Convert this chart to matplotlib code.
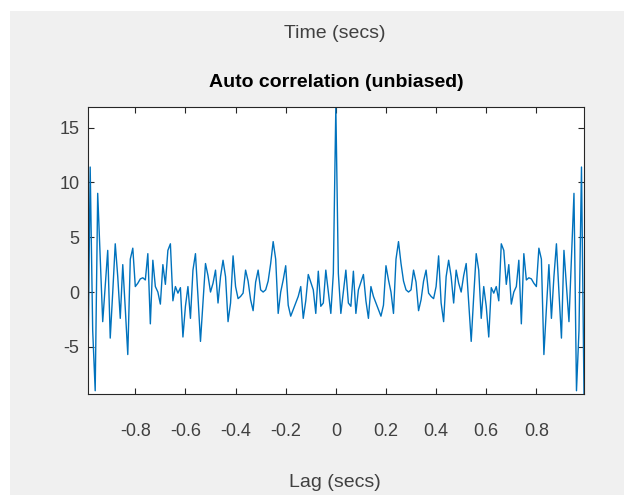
import numpy as np
import matplotlib
matplotlib.use("Agg")
import matplotlib.pyplot as plt
from matplotlib.patches import Rectangle
from matplotlib import font_manager

# autocorrelation values for lags 0 .. 0.99 s;
# the unbiased autocorrelation is symmetric, so negative lags mirror these
acf_pos = [16.9, 1.7, -1.95, 0.0, 2.0, -1.0, -1.3, 1.9, -1.95, 0.2,
           0.9, 1.6, -0.8, -2.4, 0.5, -0.4, -1.0, -1.6, -2.2, -1.2,
           2.4, 1.1, 0.0, -1.95, 3.0, 4.6, 2.6, 1.0, 0.2, 0.0,
           0.2, 2.0, 0.9, -1.7, -0.7, 1.0, 2.0, -0.1, -0.4, -0.6,
           0.5, 3.3, -1.0, -2.7, 1.4, 2.9, 1.4, -1.0, 2.0, 0.8,
           0.0, 1.5, 2.6, -1.0, -4.5, -0.4, 3.5, 2.0, -2.4, 0.5,
           -1.3, -4.1, 0.4, -0.1, 0.5, -0.8, 4.4, 3.8, 0.7, 2.5,
           -1.1, 0.0, 0.5, 2.9, -2.9, 3.5, 1.1, 1.3, 1.2, 0.8,
           0.5, 4.0, 3.0, -5.7, -1.5, 2.5, -2.4, 1.4, 4.4, 0.0,
           -4.2, 3.8, 0.5, -2.7, 3.2, 9.0, -9.0, -3.5, 11.4, -9.3]
fs = 100  # samples per second
xticks = [-0.8, -0.6, -0.4, -0.2, 0, 0.2, 0.4, 0.6, 0.8]
xticklabels = ["-0.8", "-0.6", "-0.4", "-0.2", "0", "0.2", "0.4", "0.6", "0.8"]
yticks = [-5, 0, 5, 10, 15]
yticklabels = ["-5", "0", "5", "10", "15"]

acf = np.concatenate([acf_pos[:0:-1], acf_pos])
n = len(acf_pos)
lags = np.arange(-(n - 1), n) / fs

installed = {f.name for f in font_manager.fontManager.ttflist}
fam = [f for f in ["Liberation Sans Narrow", "Liberation Sans", "DejaVu Sans"] if f in installed]
plt.rcParams['font.family'] = fam

fig = plt.figure(figsize=(6.24, 4.95), dpi=100, facecolor="white")
# grey MATLAB figure background, with the thin white strip top / left
fig.patches.append(Rectangle((10 / 624, 0), 1, 1 - 11 / 495,
                             transform=fig.transFigure, facecolor="#f0f0f0",
                             edgecolor="none", zorder=-5))

ax = fig.add_axes([0.1405, 0.204, 0.7954, 0.5804])
ax.set_zorder(1)
ax.plot(lags, acf, color="#0072BD", lw=1.0)
ax.set_xlim(lags[0], lags[-1])
ax.set_ylim(min(acf), max(acf))

ax.set_xticks(xticks)
ax.set_xticklabels(xticklabels)
ax.set_yticks(yticks)
ax.set_yticklabels(yticklabels)
ax.tick_params(direction="in", length=4, width=0.8, colors="#262626",
               top=True, right=True, labelsize=13, labelcolor="#404040")
ax.tick_params(axis="x", pad=21)
ax.tick_params(axis="y", pad=6)
for s in ax.spines.values():
    s.set_color("#262626")
    s.set_linewidth(0.8)

fig.text(0.537, 0.933, "Time (secs)", ha="center", va="center",
         fontsize=14, color="#404040")
ax.set_title("Auto correlation (unbiased)", fontsize=14, fontweight="bold",
             color="black", pad=14)
fig.text(0.537, 0.026, "Lag (secs)", ha="center", va="center",
         fontsize=14, color="#404040")

fig.savefig("out.png", dpi=100, facecolor=fig.get_facecolor())
